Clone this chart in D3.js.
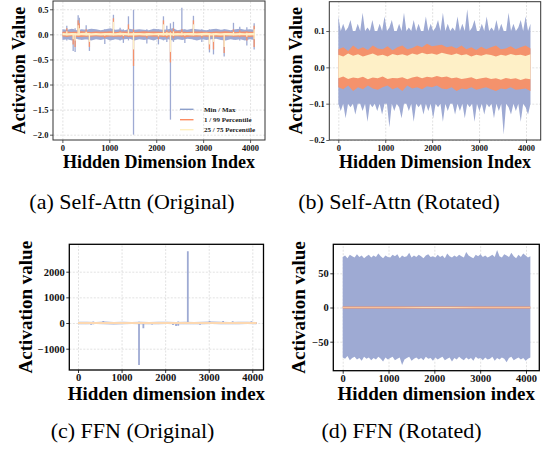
<!DOCTYPE html>
<html>
<head>
<meta charset="utf-8">
<script src="https://cdn.jsdelivr.net/npm/d3@7"></script>
<style>
  body { margin: 0; background: #fff; }
  svg { display: block; }
  text { font-family: "Liberation Serif", "Times New Roman", serif; }
</style>
</head>
<body>
<svg id="chart" width="545" height="455"></svg>
<script>
const NUM_DIMS = 4096;
const xTickValues = [0, 1000, 2000, 3000, 4000];

// (a) Self-Attn (Original): band sampled along the hidden dims + outlier dims
const aMax = [0.1, 0.09, 0.11, 0.08, 0.1, 0.09, 0.11, 0.1, 0.08, 0.1, 0.12, 0.09, 0.1, 0.08, 0.11, 0.09, 0.1, 0.09, 0.08, 0.11, 0.1, 0.09, 0.1, 0.12, 0.08, 0.1, 0.09, 0.11, 0.1, 0.09, 0.08, 0.1, 0.11, 0.09, 0.1, 0.08, 0.1, 0.11, 0.09, 0.1, 0.09];
const aMin = [-0.11, -0.1, -0.12, -0.09, -0.11, -0.1, -0.12, -0.1, -0.11, -0.09, -0.12, -0.1, -0.11, -0.1, -0.09, -0.12, -0.1, -0.11, -0.1, -0.12, -0.09, -0.11, -0.1, -0.12, -0.1, -0.11, -0.09, -0.1, -0.12, -0.1, -0.11, -0.1, -0.09, -0.11, -0.12, -0.1, -0.11, -0.1, -0.12, -0.1, -0.11];
const aP99 = [0.05, 0.055, 0.045, 0.05, 0.06, 0.05, 0.045, 0.055, 0.05, 0.05, 0.06, 0.045, 0.05, 0.055, 0.05, 0.045, 0.05, 0.06, 0.05, 0.055, 0.05, 0.045, 0.05, 0.055, 0.06, 0.05, 0.045, 0.05, 0.055, 0.05, 0.05, 0.045, 0.055, 0.05, 0.06, 0.05, 0.045, 0.05, 0.055, 0.05, 0.05];
const aP1 = [-0.045, -0.05, -0.04, -0.05, -0.055, -0.045, -0.05, -0.04, -0.05, -0.055, -0.045, -0.05, -0.045, -0.04, -0.05, -0.055, -0.045, -0.05, -0.04, -0.05, -0.045, -0.055, -0.05, -0.045, -0.04, -0.05, -0.055, -0.045, -0.05, -0.04, -0.05, -0.045, -0.05, -0.055, -0.045, -0.04, -0.05, -0.045, -0.05, -0.055, -0.045];
const aP75 = [0.025, 0.02, 0.028, 0.022, 0.025, 0.03, 0.022, 0.025, 0.02, 0.028, 0.025, 0.022, 0.03, 0.025, 0.02, 0.025, 0.028, 0.022, 0.025, 0.02, 0.028, 0.025, 0.03, 0.022, 0.025, 0.02, 0.025, 0.028, 0.022, 0.025, 0.03, 0.022, 0.025, 0.02, 0.028, 0.025, 0.022, 0.025, 0.02, 0.028, 0.025];
const aP25 = [-0.02, -0.025, -0.018, -0.022, -0.02, -0.025, -0.022, -0.018, -0.025, -0.02, -0.022, -0.025, -0.02, -0.018, -0.022, -0.025, -0.02, -0.022, -0.025, -0.02, -0.018, -0.022, -0.02, -0.025, -0.022, -0.02, -0.018, -0.025, -0.02, -0.022, -0.02, -0.025, -0.018, -0.022, -0.02, -0.025, -0.022, -0.02, -0.018, -0.022, -0.02];

const aSpikeDims = [94, 230, 271, 336, 360, 507, 576, 904, 1088, 1230, 1300, 1408, 1516, 1800, 2047, 2154, 2226, 2303, 2367, 2546, 2610, 2793, 2972, 3134, 3220, 3448, 3646, 3780, 3931, 4087];
const aSpikeMax = [0.17, 0.1, 0.12, 0.38, 0.33, 0.18, 0.1, 0.1, 0.39, 0.13, 0.1, 0.36, 0.49, 0.1, 0.1, 0.36, 0.17, 0.22, 0.25, 0.53, 0.1, 0.37, 0.1, 0.1, 0.1, 0.1, 0.23, 0.15, 0.14, 0.22];
const aSpikeMin = [-0.12, -0.33, -0.35, -0.1, -0.1, -0.1, -0.33, -0.19, -0.1, -0.12, -0.17, -0.12, -2.0, -0.18, -0.2, -0.12, -0.15, -1.7, -0.15, -0.1, -0.17, -0.1, -0.15, -0.36, -0.4, -0.44, -0.1, -0.12, -0.22, -0.3];
const aSpikeP99 = [0.12, 0.05, 0.05, 0.28, 0.22, 0.1, 0.05, 0.05, 0.32, 0.07, 0.05, 0.2, 0.1, 0.05, 0.05, 0.28, 0.08, 0.08, 0.12, 0.1, 0.05, 0.28, 0.05, 0.05, 0.05, 0.05, 0.1, 0.08, 0.06, 0.17];
const aSpikeP1 = [-0.05, -0.2, -0.25, -0.05, -0.05, -0.05, -0.25, -0.08, -0.05, -0.05, -0.08, -0.05, -0.63, -0.08, -0.1, -0.05, -0.08, -0.56, -0.08, -0.05, -0.08, -0.05, -0.07, -0.3, -0.3, -0.37, -0.05, -0.06, -0.12, -0.25];
const aSpikeP75 = [0.06, 0.02, 0.02, 0.18, 0.12, 0.05, 0.02, 0.02, 0.25, 0.03, 0.02, 0.1, 0.04, 0.02, 0.02, 0.2, 0.04, 0.04, 0.06, 0.04, 0.02, 0.2, 0.02, 0.02, 0.02, 0.02, 0.05, 0.03, 0.03, 0.1];
const aSpikeP25 = [-0.02, -0.1, -0.12, -0.02, -0.02, -0.02, -0.15, -0.03, -0.02, -0.02, -0.03, -0.02, -0.3, -0.03, -0.04, -0.02, -0.03, -0.35, -0.03, -0.02, -0.03, -0.02, -0.03, -0.2, -0.15, -0.25, -0.02, -0.02, -0.05, -0.1];

// (b) Self-Attn (Rotated)
const bMax = [0.14, 0.1, 0.12, 0.1, 0.11, 0.13, 0.1, 0.1, 0.12, 0.1,
  0.15, 0.1, 0.11, 0.1, 0.13, 0.1, 0.1, 0.12, 0.1, 0.14,
  0.1, 0.11, 0.13, 0.1, 0.1, 0.12, 0.1, 0.15, 0.1, 0.11,
  0.1, 0.13, 0.1, 0.12, 0.1, 0.1, 0.14, 0.1, 0.12, 0.1,
  0.11, 0.13, 0.1, 0.15, 0.1, 0.12, 0.1, 0.11, 0.1, 0.14,
  0.1, 0.12, 0.1, 0.16, 0.1, 0.11, 0.13, 0.1, 0.1, 0.12,
  0.1, 0.14, 0.1, 0.11, 0.1, 0.13, 0.1, 0.12, 0.1, 0.1,
  0.15, 0.1, 0.12, 0.1, 0.11, 0.13, 0.1, 0.14, 0.1, 0.12];
const bMin = [-0.1, -0.12, -0.1, -0.14, -0.1, -0.11, -0.1, -0.13, -0.1, -0.1,
  -0.12, -0.1, -0.15, -0.1, -0.11, -0.1, -0.12, -0.1, -0.13, -0.1,
  -0.1, -0.165, -0.1, -0.12, -0.1, -0.11, -0.14, -0.1, -0.1, -0.12,
  -0.1, -0.15, -0.1, -0.11, -0.1, -0.13, -0.1, -0.12, -0.1, -0.14,
  -0.1, -0.11, -0.1, -0.15, -0.1, -0.12, -0.1, -0.1, -0.13, -0.1,
  -0.12, -0.1, -0.14, -0.1, -0.11, -0.1, -0.15, -0.1, -0.12, -0.1,
  -0.13, -0.1, -0.11, -0.1, -0.14, -0.1, -0.12, -0.1, -0.185, -0.1,
  -0.11, -0.13, -0.1, -0.12, -0.1, -0.15, -0.1, -0.11, -0.13, -0.1];
const bP99 = [0.05, 0.055, 0.045, 0.06, 0.05, 0.055, 0.048, 0.06, 0.052, 0.05, 0.058, 0.047, 0.055, 0.06, 0.05, 0.053, 0.06, 0.055, 0.065, 0.058,
  0.06, 0.062, 0.055, 0.058, 0.052, 0.06, 0.05, 0.055, 0.048, 0.057, 0.05, 0.055, 0.06, 0.05, 0.052, 0.058, 0.05, 0.055, 0.06, 0.052];
const bP1 = [-0.055, -0.06, -0.05, -0.065, -0.055, -0.06, -0.05, -0.058, -0.062, -0.055, -0.05, -0.06, -0.055, -0.065, -0.05, -0.058, -0.055, -0.06, -0.052, -0.055,
  -0.05, -0.058, -0.06, -0.055, -0.065, -0.058, -0.06, -0.055, -0.062, -0.058, -0.055, -0.06, -0.065, -0.058, -0.06, -0.055, -0.062, -0.06, -0.058, -0.065];
const bP75 = [0.035, 0.03, 0.038, 0.032, 0.036, 0.03, 0.034, 0.038, 0.032, 0.035, 0.03, 0.037, 0.033, 0.036, 0.032, 0.038, 0.035, 0.04, 0.036, 0.038,
  0.035, 0.04, 0.037, 0.034, 0.038, 0.033, 0.036, 0.03, 0.035, 0.032, 0.036, 0.034, 0.03, 0.035, 0.032, 0.037, 0.033, 0.035, 0.031, 0.036];
const bP25 = [-0.03, -0.025, -0.032, -0.028, -0.03, -0.026, -0.033, -0.028, -0.03, -0.025, -0.032, -0.029, -0.03, -0.027, -0.033, -0.028, -0.025, -0.03, -0.026, -0.028,
  -0.024, -0.027, -0.025, -0.03, -0.028, -0.032, -0.03, -0.027, -0.033, -0.03, -0.028, -0.032, -0.03, -0.034, -0.029, -0.032, -0.03, -0.035, -0.031, -0.033];

// (c) FFN (Original)
const cMax = [45, 52, 40, 55, 44, 50, 42, 48, 40, 54, 46, 42, 50, 44, 48, 55, 45, 42, 50, 46, 44];
const cMin = [-44, -50, -42, -48, -55, -45, -42, -48, -44, -50, -42, -46, -52, -44, -48, -42, -50, -45, -48, -42, -46];
const cP99 = [38, 40, 36, 40, 38, 39, 36, 40, 37, 40, 38, 36, 40, 38, 39, 40, 37, 36, 40, 38, 39];
const cP1 = [-38, -40, -36, -39, -40, -38, -36, -40, -38, -40, -37, -38, -40, -36, -39, -38, -40, -38, -39, -36, -38];
const cP75 = [28, 30, 27, 30, 28, 29, 27, 30, 28, 30, 28, 27, 30, 28, 29, 30, 28, 27, 30, 28, 29];
const cP25 = [-28, -30, -27, -29, -30, -28, -27, -30, -28, -30, -27, -28, -30, -27, -29, -28, -30, -28, -29, -27, -28];
const cSpikeDims = [300, 350, 580, 1400, 1500, 1700, 2180, 2250, 2300, 2520, 2800, 3020, 3330, 3550, 3980];
const cSpikeMax = [40, 60, 80, 50, 40, 40, 40, 40, 60, 2800, 40, 80, 80, 70, 70];
const cSpikeMin = [-70, -50, -40, -1640, -200, -60, -80, -120, -110, -40, -70, -40, -40, -40, -40];

// (d) FFN (Rotated)
const dMax = [74, 76, 72, 77, 75, 73, 78, 74, 76, 72, 75, 77, 73, 76, 74, 79, 75, 72, 76, 74,
  73, 77, 75, 78, 72, 76, 74, 75, 80, 73, 76, 74, 77, 75, 72, 76, 78, 74, 75, 73,
  77, 74, 76, 72, 79, 75, 73, 76, 74, 77, 75, 73, 81, 76, 74, 72, 77, 75, 78, 74,
  76, 73, 75, 77, 74, 84, 75, 73, 78, 76, 74, 80, 75, 72, 77, 74, 79, 76, 73, 75];
const dMin = [-73, -75, -71, -77, -74, -72, -76, -74, -78, -72, -75, -73, -77, -74, -76, -72, -75, -79, -73, -76,
  -74, -72, -77, -75, -73, -84, -76, -74, -72, -78, -75, -73, -76, -74, -77, -72, -75, -74, -78, -73,
  -76, -74, -72, -77, -75, -73, -79, -74, -76, -72, -75, -77, -73, -76, -74, -78, -72, -75, -74, -77,
  -73, -76, -75, -72, -78, -74, -76, -73, -75, -80, -74, -72, -77, -75, -73, -76, -74, -78, -75, -73];
const dP99 = [1.5, 1.4, 1.6, 1.5, 1.4, 1.5, 1.6, 1.5];
const dP1 = [-1.5, -1.6, -1.4, -1.5, -1.6, -1.5, -1.4, -1.5];
const dP75 = [0.5, 0.4, 0.5, 0.6, 0.5, 0.4, 0.5, 0.5];
const dP25 = [-0.5, -0.5, -0.4, -0.5, -0.6, -0.5, -0.4, -0.5];

const legendLabels = ["Min / Max", "1 / 99 Percentile", "25 / 75 Percentile"];
const captions = ["(a) Self-Attn (Original)", "(b) Self-Attn (Rotated)", "(c) FFN (Original)", "(d) FFN (Rotated)"];

const BLUE = "#9eaad3";
const ORANGE = "#f4926c";
const YELLOW = "#fef0c7";

const svg = d3.select("#chart");

function dimsFor(values) {
  return values.map((_, i) => (i * (NUM_DIMS - 1)) / (values.length - 1));
}

function drawBand(g, p, lo, hi, color) {
  const dims = dimsFor(hi);
  const area = d3.area()
    .x((d, i) => p.x(dims[i]))
    .y0((d, i) => p.y(lo[i]))
    .y1(d => p.y(d));
  g.append("path").datum(hi).attr("d", area).attr("fill", color);
}

function drawSpikes(g, p, dims, lo, hi, color, width) {
  g.append("g")
    .selectAll("line")
    .data(dims)
    .join("line")
    .attr("x1", d => p.x(d))
    .attr("x2", d => p.x(d))
    .attr("y1", (d, i) => p.y(lo[i]))
    .attr("y2", (d, i) => p.y(hi[i]))
    .attr("stroke", color)
    .attr("stroke-width", width);
}

function setupPanel(opt) {
  const x = d3.scaleLinear().domain(opt.xDomain).range(opt.xRange);
  const y = d3.scaleLinear().domain(opt.yDomain).range(opt.yRange);
  const [left, right] = opt.xRange;
  const [bottom, top] = opt.yRange;
  const g = svg.append("g");

  // grid
  const grid = g.append("g").attr("class", "grid");
  grid.append("g")
    .attr("transform", `translate(0,${bottom})`)
    .call(d3.axisBottom(x).tickValues(xTickValues).tickSize(-(bottom - top)).tickFormat(""));
  grid.append("g")
    .attr("transform", `translate(${left},0)`)
    .call(d3.axisLeft(y).tickValues(opt.yTicks).tickSize(-(right - left)).tickFormat(""));
  grid.selectAll(".domain").remove();
  grid.selectAll("line").attr("stroke", "#cfcfcf").attr("stroke-width", 0.6).attr("stroke-dasharray", "2,1.5");

  const clipId = "clip-" + opt.id;
  g.append("clipPath").attr("id", clipId)
    .append("rect").attr("x", left).attr("y", top).attr("width", right - left).attr("height", bottom - top);
  const plot = g.append("g").attr("clip-path", `url(#${clipId})`);

  // axes
  const xAxis = g.append("g")
    .attr("transform", `translate(0,${bottom})`)
    .call(d3.axisBottom(x).tickValues(xTickValues).tickFormat(d3.format("d")).tickSize(3).tickPadding(opt.xPad));
  const yAxis = g.append("g")
    .attr("transform", `translate(${left},0)`)
    .call(d3.axisLeft(y).tickValues(opt.yTicks).tickFormat(d3.format(opt.yFormat)).tickSize(3).tickPadding(1.5));
  [xAxis, yAxis].forEach(a => {
    a.select(".domain").remove();
    a.selectAll("line").attr("stroke", opt.frameColor).attr("stroke-width", 0.8);
    a.selectAll("text")
      .attr("font-family", "Liberation Serif")
      .attr("font-weight", "bold")
      .attr("font-size", opt.tickSize)
      .attr("fill", "#111");
  });

  g.append("text")
    .attr("x", (left + right) / 2)
    .attr("y", opt.xLabelY)
    .attr("text-anchor", "middle")
    .attr("font-weight", "bold")
    .attr("font-size", opt.labelSize)
    .text(opt.xLabel);
  g.append("text")
    .attr("transform", `translate(${opt.yLabelX},${(top + bottom) / 2}) rotate(-90)`)
    .attr("text-anchor", "middle")
    .attr("font-weight", "bold")
    .attr("font-size", opt.labelSize)
    .text(opt.yLabel);

  return {x, y, g, plot, frame: () =>
    g.append("rect")
      .attr("x", left).attr("y", top)
      .attr("width", right - left).attr("height", bottom - top)
      .attr("fill", "none")
      .attr("stroke", opt.frameColor)
      .attr("stroke-width", opt.frameWidth)
  };
}

// (a)
const pa = setupPanel({
  id: "a", xRange: [53, 265], yRange: [140, 1], xDomain: [-200, 4318], yDomain: [-2.106, 0.665],
  yTicks: [0.5, 0, -0.5, -1, -1.5, -2], yFormat: ".1f", tickSize: 8.5, labelSize: 18, xPad: 1.5,
  xLabel: "Hidden Dimension Index", yLabel: "Activation Value", xLabelY: 168, yLabelX: 25,
  frameColor: "#333", frameWidth: 1
});
drawBand(pa.plot, pa, aMin, aMax, BLUE);
drawSpikes(pa.plot, pa, aSpikeDims, aSpikeMin, aSpikeMax, BLUE, 1.3);
drawBand(pa.plot, pa, aP1, aP99, ORANGE);
drawSpikes(pa.plot, pa, aSpikeDims, aSpikeP1, aSpikeP99, ORANGE, 1.3);
drawBand(pa.plot, pa, aP25, aP75, YELLOW);
drawSpikes(pa.plot, pa, aSpikeDims, aSpikeP25, aSpikeP75, YELLOW, 1.3);
pa.frame();

const legend = pa.g.append("g");
const legendColors = ["#8da0cb", "#fc8d62", "#fff0c0"];
const legendRowY = [109.3, 119.7, 129.7];
legendLabels.forEach((label, i) => {
  legend.append("line")
    .attr("x1", 180).attr("x2", 193.5)
    .attr("y1", legendRowY[i]).attr("y2", legendRowY[i])
    .attr("stroke", legendColors[i]).attr("stroke-width", 1.4);
  legend.append("text")
    .attr("x", 204).attr("y", legendRowY[i]).attr("dy", "0.33em")
    .attr("font-size", 7).attr("font-weight", "bold").attr("fill", "#222")
    .text(label);
});

// (b)
const pb = setupPanel({
  id: "b", xRange: [329.3, 540.7], yRange: [140, 1.7], xDomain: [-192, 4313], yDomain: [-0.2, 0.1807],
  yTicks: [0.1, 0, -0.1, -0.2], yFormat: ".1f", tickSize: 8.5, labelSize: 18, xPad: 1.5,
  xLabel: "Hidden Dimension Index", yLabel: "Activation Value", xLabelY: 168, yLabelX: 301.7,
  frameColor: "#333", frameWidth: 1
});
drawBand(pb.plot, pb, bMin, bMax, BLUE);
drawBand(pb.plot, pb, bP1, bP99, ORANGE);
drawBand(pb.plot, pb, bP25, bP75, YELLOW);
pb.frame();

// (c)
const pc = setupPanel({
  id: "c", xRange: [69.3, 263.5], yRange: [370, 244.3], xDomain: [-200, 4257], yDomain: [-1830, 3067],
  yTicks: [2000, 1000, 0, -1000], yFormat: "d", tickSize: 10.5, labelSize: 19, xPad: 0.5,
  xLabel: "Hidden dimension index", yLabel: "Activation value", xLabelY: 399.5, yLabelX: 32,
  frameColor: "#000", frameWidth: 1.3
});
drawBand(pc.plot, pc, cMin, cMax, BLUE);
drawSpikes(pc.plot, pc, cSpikeDims, cSpikeMin, cSpikeMax, BLUE, 1.8);
drawBand(pc.plot, pc, cP1, cP99, ORANGE);
drawBand(pc.plot, pc, cP25, cP75, YELLOW);
pc.frame();

// (d)
const pd = setupPanel({
  id: "d", xRange: [333.3, 539.3], yRange: [370.7, 244.3], xDomain: [-205, 4290], yDomain: [-92.4, 92.4],
  yTicks: [50, 0, -50], yFormat: "d", tickSize: 10.5, labelSize: 19, xPad: 0.5,
  xLabel: "Hidden dimension index", yLabel: "Activation value", xLabelY: 399.5, yLabelX: 305,
  frameColor: "#000", frameWidth: 1.3
});
drawBand(pd.plot, pd, dMin, dMax, BLUE);
drawBand(pd.plot, pd, dP1, dP99, ORANGE);
drawBand(pd.plot, pd, dP25, dP75, YELLOW);
pd.frame();

// captions
const captionPos = [[132, 209], [399, 209], [132.5, 438], [401.5, 438]];
svg.selectAll(".caption")
  .data(captions)
  .join("text")
  .attr("class", "caption")
  .attr("x", (d, i) => captionPos[i][0])
  .attr("y", (d, i) => captionPos[i][1])
  .attr("text-anchor", "middle")
  .attr("font-size", 22)
  .attr("fill", "#000")
  .text(d => d);
</script>
</body>
</html>
